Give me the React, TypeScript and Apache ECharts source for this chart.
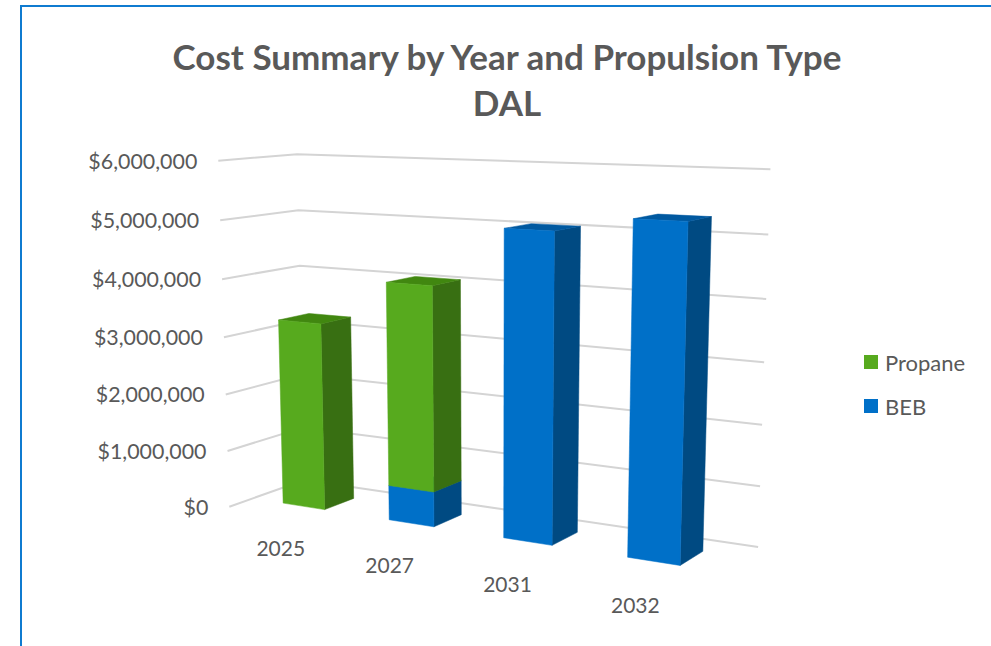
import React, { useEffect, useRef } from "react";
import * as echarts from "echarts";

const years = ["2025", "2027", "2031", "2032"];
const bebCost = [0, 600000, 5050000, 5300000];
const propaneCost = [3260000, 3455000, 0, 0];
const valueTicks = [0, 1000000, 2000000, 3000000, 4000000, 5000000, 6000000];
const valueTickLabels = ["$0", "$1,000,000", "$2,000,000", "$3,000,000", "$4,000,000", "$5,000,000", "$6,000,000"];

const FONT = "Lato, Carlito, sans-serif";
const TEXT = "#595959";
const GREEN = { front: "#57AA1E", top: "#418710", side: "#386F12" };
const BLUE = { front: "#0070C8", top: "#0059A0", side: "#004A82" };

// Perspective camera of the 3D plot: u runs along the categories, v up the
// value axis and w from the front of the floor to the back wall (all 0..1).
function project(u: number, v: number, w: number): number[] {
  const d = 1 - 0.148 * u - 0.0403 * v + 0.063 * w;
  return [
    (229.3 + 370 * u - 19.8 * v + 94.38 * w) / d,
    (506.7 - 9.74 * u - 352.5 * v + 3.54 * w) / d,
  ];
}

// Converts a data point to the unit coordinates of the plot via the grid's scales.
function unitCoords(api: any, cs: any, category: number, value: number): number[] {
  const p = api.coord([category, value]);
  return [(p[0] - cs.x) / cs.width, 1 - (p[1] - cs.y) / cs.height];
}

const BAR_SHARE = 0.4; // bar width and depth as a share of the category band
const DEPTH_FRONT = 0.3;
const DEPTH_BACK = DEPTH_FRONT + BAR_SHARE;

function barRenderer(colors: { front: string; top: string; side: string }) {
  return (params: any, api: any) => {
    const cat = api.value(0);
    const from = api.value(1);
    const to = api.value(2);
    if (to <= from) return null;
    const cs = params.coordSys;
    const [uc, v0] = unitCoords(api, cs, cat, from);
    const [, v1] = unitCoords(api, cs, cat, to);
    const half = (api.size([1, 0])[0] / cs.width) * BAR_SHARE * 0.5;
    const u0 = uc - half;
    const u1 = uc + half;
    const face = (points: number[][], fill: string) => ({
      type: "polygon",
      shape: { points },
      style: { fill, stroke: fill, lineWidth: 0.5 },
    });
    return {
      type: "group",
      children: [
        face(
          [project(u1, v0, DEPTH_FRONT), project(u1, v0, DEPTH_BACK), project(u1, v1, DEPTH_BACK), project(u1, v1, DEPTH_FRONT)],
          colors.side,
        ),
        face(
          [project(u0, v1, DEPTH_FRONT), project(u1, v1, DEPTH_FRONT), project(u1, v1, DEPTH_BACK), project(u0, v1, DEPTH_BACK)],
          colors.top,
        ),
        face(
          [project(u0, v0, DEPTH_FRONT), project(u1, v0, DEPTH_FRONT), project(u1, v1, DEPTH_FRONT), project(u0, v1, DEPTH_FRONT)],
          colors.front,
        ),
      ],
    };
  };
}

function stackRows(values: number[], base: number[]) {
  return values.map((value, i) => [i, base[i], base[i] + value]);
}

function buildOption() {
  return {
    animation: false,
    backgroundColor: "#ffffff",
    title: {
      text: "Cost Summary by Year and Propulsion Type\nDAL",
      left: 502,
      top: 28,
      textAlign: "center",
      textStyle: { fontFamily: FONT, fontSize: 35, fontWeight: "bold", color: TEXT, lineHeight: 46 },
    },
    legend: {
      orient: "vertical",
      left: 859,
      top: 345,
      itemWidth: 14,
      itemHeight: 14,
      itemGap: 20,
      icon: "rect",
      data: ["Propane", "BEB"],
      selectedMode: false,
      textStyle: { fontFamily: FONT, fontSize: 22, color: TEXT, lineHeight: 24, padding: [0, 0, 0, 2] },
    },
    grid: { left: 0, top: 0, width: 600, height: 600, containLabel: false },
    xAxis: { type: "category", data: years, show: false },
    yAxis: { type: "value", min: 0, max: 6000000, interval: 1000000, show: false },
    graphic: [
      {
        type: "rect",
        shape: { x: 21, y: 6, width: 1100, height: 800 },
        style: { fill: "none", stroke: "#0F7BD0", lineWidth: 2 },
        silent: true,
      },
    ],
    series: [
      {
        type: "custom",
        name: "gridlines",
        coordinateSystem: "cartesian2d",
        silent: true,
        clip: false,
        z: 1,
        data: valueTicks.map((t) => [0, t]),
        encode: { x: 0, y: 1 },
        renderItem: (params: any, api: any) => {
          const [, v] = unitCoords(api, params.coordSys, 0, api.value(1));
          return {
            type: "polyline",
            shape: { points: [project(0, v, 0), project(0, v, 1), project(1, v, 1)] },
            style: { stroke: "#D4D4D4", lineWidth: 2, fill: "none" },
          };
        },
      },
      {
        type: "custom",
        name: "value labels",
        coordinateSystem: "cartesian2d",
        silent: true,
        clip: false,
        z: 2,
        data: valueTicks.map((t, i) => [0, t, i]),
        encode: { x: 0, y: 1 },
        renderItem: (params: any, api: any) => {
          const [, v] = unitCoords(api, params.coordSys, 0, api.value(1));
          const [x, y] = project(0, v, 0);
          return {
            type: "text",
            style: {
              text: valueTickLabels[api.value(2)],
              x: x - 21,
              y,
              align: "right",
              verticalAlign: "middle",
              fill: TEXT,
              font: `21.4px ${FONT}`,
            },
          };
        },
      },
      {
        type: "custom",
        name: "year labels",
        coordinateSystem: "cartesian2d",
        silent: true,
        clip: false,
        z: 2,
        data: years.map((_, i) => [i, 0]),
        encode: { x: 0, y: 1 },
        renderItem: (params: any, api: any) => {
          const i = api.value(0);
          const [u] = unitCoords(api, params.coordSys, i, 0);
          const [x, y] = project(u, 0, 0);
          return {
            type: "text",
            style: {
              text: years[i],
              x,
              y: y + 32,
              align: "center",
              verticalAlign: "middle",
              fill: TEXT,
              font: `21px ${FONT}`,
            },
          };
        },
      },
      {
        type: "custom",
        name: "BEB",
        coordinateSystem: "cartesian2d",
        clip: false,
        z: 3,
        itemStyle: { color: BLUE.front },
        data: stackRows(bebCost, [0, 0, 0, 0]),
        encode: { x: 0, y: [1, 2] },
        renderItem: barRenderer(BLUE),
      },
      {
        type: "custom",
        name: "Propane",
        coordinateSystem: "cartesian2d",
        clip: false,
        z: 4,
        itemStyle: { color: GREEN.front },
        data: stackRows(propaneCost, bebCost),
        encode: { x: 0, y: [1, 2] },
        renderItem: barRenderer(GREEN),
      },
    ],
  };
}

export default function App() {
  const ref = useRef<HTMLDivElement>(null);
  useEffect(() => {
    const chart = echarts.init(ref.current!, undefined, { renderer: "svg" });
    chart.setOption(buildOption() as any);
    return () => chart.dispose();
  }, []);
  return (
    <div
      ref={ref}
      style={{ position: "absolute", left: 0, top: 0, width: 991, height: 646, overflow: "hidden" }}
    />
  );
}
